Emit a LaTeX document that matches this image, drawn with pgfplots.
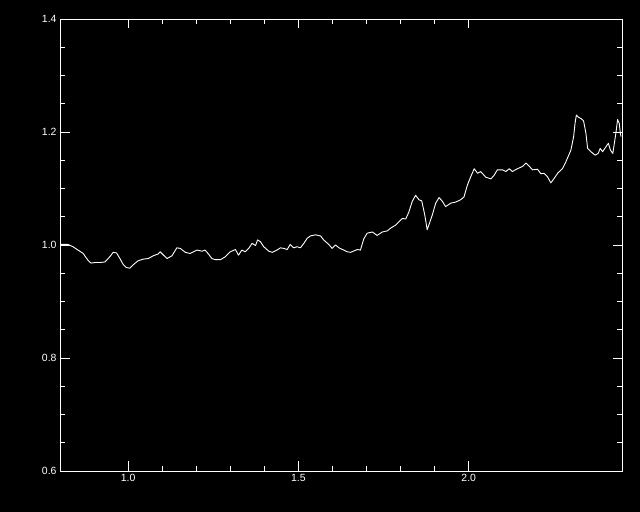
\documentclass[border=0pt]{standalone}
\usepackage{fontspec}
\setmainfont{Liberation Sans}
\usepackage{pgfplots}
\pgfplotsset{compat=1.18}
\begin{document}
\begin{tikzpicture}[x=1bp,y=1bp]
\fill[black] (0,0) rectangle (640,512);
\useasboundingbox (0,0) rectangle (640,512);
\begin{axis}[
  at={(60bp,41bp)}, anchor=south west,
  scale only axis, width=562bp, height=452bp,
  xmin=0.8, xmax=2.45, ymin=0.6, ymax=1.4,
  xtick={1.0,1.5,2.0}, ytick={0.6,0.8,1.0,1.2,1.4},
  minor x tick num=4, minor y tick num=3,
  tick align=inside,
  major tick length=9.5bp, minor tick length=5bp,
  axis line style={white, line width=0.9bp},
  every tick/.style={white, line width=0.9bp},
  tick label style={white, font=\fontsize{10.5}{12}\selectfont},
  /pgf/number format/assume math mode=true,
  xticklabel style={/pgf/number format/.cd, fixed, fixed zerofill, precision=1},
  yticklabel style={/pgf/number format/.cd, fixed, fixed zerofill, precision=1},
  scaled ticks=false,
  clip=true,
]
\addplot[white, line width=0.9bp, line join=round] coordinates {
(0.800,1.001)(0.8235,1.001)(0.838,0.997)(0.853,0.991)(0.868,0.985)(0.882,0.973)(0.891,0.968)(0.903,0.969)(0.918,0.969)(0.932,0.970)(0.946,0.979)(0.956,0.987)(0.966,0.986)(0.976,0.976)(0.985,0.966)(0.995,0.960)(1.005,0.959)(1.015,0.965)(1.029,0.972)(1.044,0.975)(1.059,0.976)(1.074,0.981)(1.088,0.984)(1.094,0.988)(1.104,0.982)(1.114,0.976)(1.129,0.981)(1.143,0.995)(1.153,0.994)(1.168,0.987)(1.182,0.985)(1.192,0.988)(1.202,0.991)(1.217,0.989)(1.226,0.991)(1.236,0.984)(1.246,0.976)(1.256,0.974)(1.271,0.974)(1.285,0.979)(1.300,0.988)(1.315,0.992)(1.324,0.982)(1.334,0.991)(1.344,0.988)(1.354,0.994)(1.364,1.003)(1.374,0.999)(1.380,1.009)(1.388,1.006)(1.398,0.997)(1.413,0.989)(1.423,0.987)(1.437,0.991)(1.447,0.995)(1.457,0.994)(1.467,0.992)(1.476,1.001)(1.486,0.995)(1.496,0.997)(1.506,0.995)(1.516,1.003)(1.526,1.012)(1.535,1.016)(1.550,1.018)(1.565,1.016)(1.574,1.009)(1.589,1.001)(1.599,0.994)(1.609,1.000)(1.619,0.995)(1.633,0.991)(1.643,0.988)(1.653,0.987)(1.673,0.992)(1.682,0.991)(1.692,1.011)(1.702,1.021)(1.717,1.023)(1.731,1.017)(1.746,1.023)(1.761,1.025)(1.771,1.030)(1.785,1.035)(1.795,1.041)(1.805,1.047)(1.815,1.046)(1.824,1.058)(1.834,1.077)(1.844,1.088)(1.854,1.080)(1.862,1.078)(1.871,1.053)(1.878,1.027)(1.885,1.039)(1.893,1.053)(1.903,1.074)(1.913,1.084)(1.923,1.077)(1.932,1.068)(1.947,1.074)(1.962,1.076)(1.976,1.080)(1.986,1.085)(1.996,1.106)(2.006,1.121)(2.016,1.135)(2.026,1.127)(2.035,1.130)(2.050,1.120)(2.065,1.117)(2.074,1.123)(2.084,1.133)(2.099,1.133)(2.109,1.130)(2.119,1.135)(2.128,1.130)(2.143,1.135)(2.158,1.139)(2.168,1.145)(2.177,1.140)(2.187,1.133)(2.202,1.134)(2.212,1.126)(2.221,1.127)(2.231,1.121)(2.241,1.110)(2.251,1.118)(2.261,1.127)(2.276,1.136)(2.285,1.147)(2.300,1.168)(2.308,1.192)(2.312,1.215)(2.316,1.230)(2.322,1.226)(2.329,1.224)(2.337,1.220)(2.344,1.198)(2.349,1.171)(2.359,1.165)(2.371,1.159)(2.380,1.162)(2.386,1.171)(2.393,1.165)(2.403,1.174)(2.410,1.180)(2.416,1.168)(2.423,1.162)(2.432,1.198)(2.437,1.222)(2.442,1.215)(2.445,1.198)(2.447,1.192)
};
\addplot[white, line width=0.9bp] coordinates {(2.423,1.199)(2.452,1.199)};
\end{axis}
\end{tikzpicture}
\end{document}
